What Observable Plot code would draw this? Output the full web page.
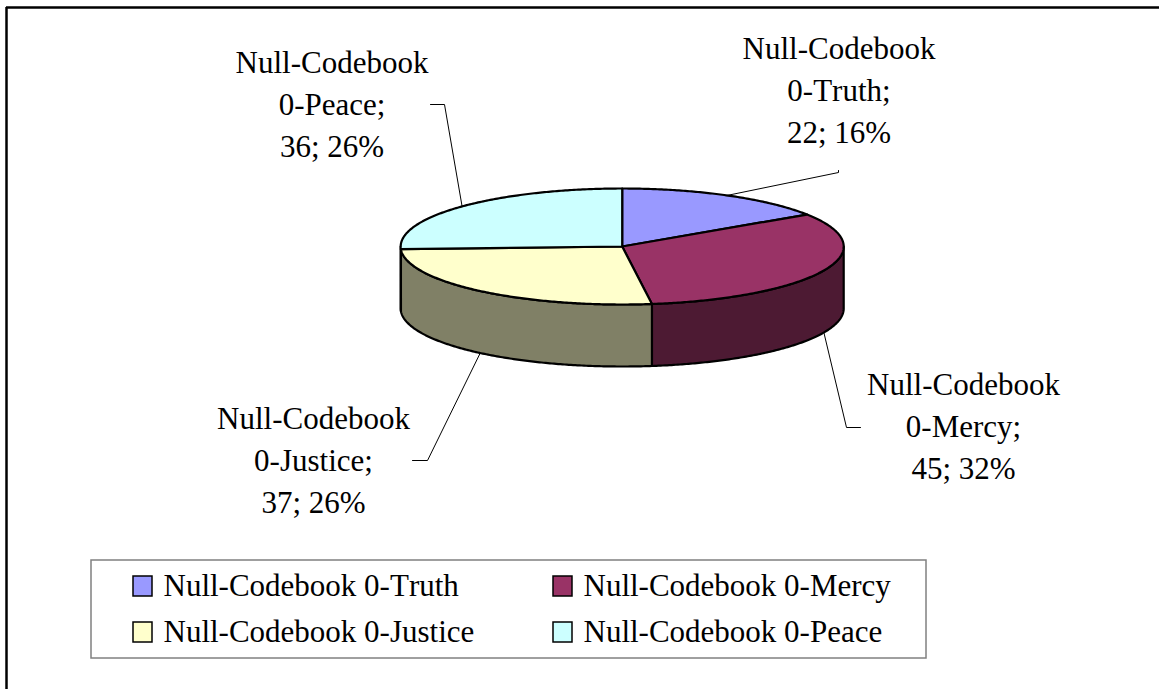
<!DOCTYPE html>
<html>
<head>
<meta charset="utf-8">
<script src="https://cdn.jsdelivr.net/npm/d3@7"></script>
<script src="https://cdn.jsdelivr.net/npm/@observablehq/plot@0.6"></script>
<style>
html,body{margin:0;padding:0;background:#fff;overflow:hidden}
svg{display:block}
svg text{font-kerning:none}
</style>
</head>
<body>
<div id="chart"></div>
<script>
const categories = ["Null-Codebook 0-Truth", "Null-Codebook 0-Mercy", "Null-Codebook 0-Justice", "Null-Codebook 0-Peace"];
const values = [22, 45, 37, 36];
const topColors = ["#9999ff", "#993366", "#ffffcc", "#ccffff"];
const sideColors = ["#4d4d80", "#4d1a33", "#808066", "#668080"];

// Layout of the tilted pie and its annotations (page pixels)
const W = 1159, H = 689;
const cx = 621.7, cy = 246, rx = 221.5, ry = 58, depth = 62;
const font = "Liberation Serif", fs = 31;
const labelAt = [[838.5, 87], [963, 423], [313, 457], [331.5, 101]];
const elbows = [[[838, 172], [838, 170]], [[846, 427], [860, 427]], [[427, 460], [412, 460]], [[444, 104], [430, 104]]];
const legendCells = [[133, 586], [553, 586], [133, 632], [553, 632]];

const total = d3.sum(values);
const toAngle = v => v / total * 2 * Math.PI;
const onRim = (t, dy = 0) => [cx + rx * Math.sin(t), cy - ry * Math.cos(t) + dy];
const arc = (a, b, dy = 0) => {
  const n = Math.max(2, Math.ceil((b - a) / 0.01));
  return d3.range(n + 1).map(i => onRim(a + (b - a) * i / n, dy));
};

let acc = 0;
const slices = values.map((v, i) => {
  const a = toAngle(acc), b = toAngle(acc + v);
  acc += v;
  return {i, name: categories[i], value: v, a, b, mid: (a + b) / 2};
});

const marks = [];

// Chart-area frame
marks.push(Plot.ruleY([7], {x1: 6, x2: W, stroke: "#000", strokeWidth: 2.5}));
marks.push(Plot.ruleX([6], {y1: 7, y2: H, stroke: "#000", strokeWidth: 2.5}));

// Leader lines (run from each slice's mid angle, behind the pie)
slices.forEach(s => {
  const front = s.mid > Math.PI / 2 && s.mid < 3 * Math.PI / 2;
  const start = onRim(s.mid, front ? depth : 0);
  marks.push(Plot.line([start, ...elbows[s.i]], {x: d => d[0], y: d => d[1], stroke: "#000", strokeWidth: 1}));
});

// Visible side walls: the front half of the ellipse
const clip = (s) => [Math.max(s.a, Math.PI / 2), Math.min(s.b, 3 * Math.PI / 2)];
slices.forEach(s => {
  const [a, b] = clip(s);
  if (b <= a) return;
  const poly = [...arc(a, b), ...arc(a, b, depth).reverse()];
  poly.push(poly[0]);
  marks.push(Plot.line(poly, {x: d => d[0], y: d => d[1], fill: sideColors[s.i], stroke: "#000", strokeWidth: 2.2, strokeLinejoin: "round"}));
});

// Top faces
slices.forEach(s => {
  const poly = [[cx, cy], ...arc(s.a, s.b), [cx, cy]];
  marks.push(Plot.line(poly, {x: d => d[0], y: d => d[1], fill: topColors[s.i], stroke: "#000", strokeWidth: 2.2, strokeLinejoin: "round"}));
});

// Data labels
const labelText = s => {
  const k = s.name.lastIndexOf(" ");
  return `${s.name.slice(0, k)}\n${s.name.slice(k + 1)};\n${s.value}; ${Math.round(s.value / total * 100)}%`;
};
marks.push(Plot.text(slices, {
  x: s => labelAt[s.i][0], y: s => labelAt[s.i][1], text: labelText,
  fontFamily: font, fontSize: fs, lineHeight: 1.355, fill: "#000", textAnchor: "middle"
}));

// Legend
marks.push(Plot.rect([0], {x1: 91, x2: 926, y1: 560, y2: 658, fill: "#fff", stroke: "#808080", strokeWidth: 1.5}));
marks.push(Plot.rect(slices, {
  x1: s => legendCells[s.i][0], x2: s => legendCells[s.i][0] + 19,
  y1: s => legendCells[s.i][1] - 10, y2: s => legendCells[s.i][1] + 10,
  fill: s => topColors[s.i], stroke: "#000", strokeWidth: 1.5
}));
marks.push(Plot.text(slices, {
  x: s => legendCells[s.i][0] + 30, y: s => legendCells[s.i][1], text: s => s.name,
  fontFamily: font, fontSize: fs, fill: "#000", textAnchor: "start"
}));

const chart = Plot.plot({
  width: W, height: H,
  margin: 0,
  x: {type: "linear", domain: [0, W], range: [0, W], axis: null},
  y: {type: "linear", domain: [0, H], range: [0, H], axis: null},
  color: {type: "identity"},
  style: {background: "#fff"},
  marks
});
document.getElementById("chart").append(chart);
</script>
</body>
</html>
